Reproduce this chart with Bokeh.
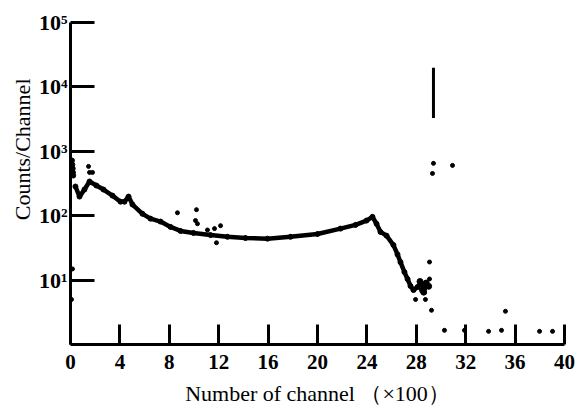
import math
from bokeh.plotting import figure
from bokeh.models import FixedTicker, Title, Range1d
from bokeh.embed import file_html
from bokeh.resources import INLINE

# main spectrum curve (channel x100, counts/channel)
curve_x = [0.40, 0.73, 1.13, 1.54, 2.10, 2.67, 3.40, 4.05, 4.37, 4.70, 5.02, 5.83, 6.48,
           7.29, 8.10, 8.91, 9.96, 11.34, 12.71, 14.17, 15.95, 17.81, 20.0, 21.86, 23.08,
           23.97, 24.45, 24.78, 25.10, 25.59, 26.15, 26.48, 26.72, 27.04, 27.29, 27.53,
           27.77, 28.10, 28.34, 28.66, 28.91]
curve_y = [284, 198, 255, 340, 294, 255, 205, 165, 165, 198, 149, 107, 90,
           81, 67, 58, 54, 50, 47, 45, 44, 47, 52, 63, 72,
           84, 96, 75, 56, 49, 35, 25, 19, 13.3, 10.4, 8.1,
           7.0, 7.8, 8.7, 7.5, 8.4]

# spike at the very first channels
spike_x = [0.12, 0.15, 0.18, 0.20, 0.22]
spike_y = [720, 620, 540, 470, 420]

# end-of-spectrum cluster
cluster_x = [28.3, 28.5, 28.6, 28.8, 29.0]
cluster_y = [9.5, 7.0, 6.5, 9.0, 8.0]

# scattered single points
outlier_x = [1.46, 1.54, 1.78, 8.66, 10.2, 10.12, 10.28, 11.09, 11.66, 12.15, 11.82,
             0.16, 0.08, 29.07, 29.07, 27.94, 28.74, 29.23, 30.28, 31.90, 33.85,
             34.90, 35.22, 37.98, 39.03, 29.39, 29.31, 30.93]
outlier_y = [583, 470, 470, 111, 124, 84, 75, 60, 63, 70, 38,
             14.9, 5.0, 19.1, 10.4, 5.0, 5.0, 3.4, 1.66, 1.66, 1.6,
             1.66, 3.28, 1.6, 1.6, 650, 453, 604]

# tall marker line
bar_x = [29.39]
bar_lo = [3300]
bar_hi = [19800]

x_ticks = [0, 4, 8, 12, 16, 20, 24, 28, 32, 36, 40]
y_ticks = [10, 100, 1000, 10000, 100000]
y_tick_labels = ["10\u00b9", "10\u00b2", "10\u00b3", "10\u2074", "10\u2075"]

SERIF = "Liberation Serif"

p = figure(frame_width=494, frame_height=322,
           x_range=Range1d(0, 40), y_range=Range1d(1, 1e5), y_axis_type="log",
           output_backend="svg", toolbar_location=None,
           min_border_left=70, min_border_right=14, min_border_top=22, min_border_bottom=62)

p.outline_line_color = None
p.background_fill_color = "white"
p.border_fill_color = "white"
p.xgrid.grid_line_color = None
p.ygrid.grid_line_color = None

# x axis
xa = p.xaxis[0]
xa.ticker = FixedTicker(ticks=x_ticks)
xa.axis_line_width = 3
xa.axis_line_color = "black"
xa.major_tick_in = 20
xa.major_tick_out = 0
xa.major_tick_line_width = 3
xa.minor_tick_line_color = None
xa.major_label_text_font = SERIF
xa.major_label_text_font_size = "21px"
xa.major_label_text_font_style = "bold"
xa.major_label_text_color = "black"
xa.major_label_standoff = 10
xa.axis_label = "Number of channel \uff08\u00d7100\uff09"
xa.axis_label_text_font = SERIF
xa.axis_label_text_font_size = "22px"
xa.axis_label_text_font_style = "normal"
xa.axis_label_text_color = "black"
xa.axis_label_standoff = 9

# y axis
ya = p.yaxis[0]
ya.ticker = FixedTicker(ticks=y_ticks)
ya.major_label_overrides = {t: s for t, s in zip(y_ticks, y_tick_labels)}
ya.axis_line_width = 3
ya.axis_line_color = "black"
ya.major_tick_in = 24
ya.major_tick_out = 0
ya.major_tick_line_width = 3
ya.minor_tick_line_color = None
ya.major_label_text_font = SERIF
ya.major_label_text_font_size = "22px"
ya.major_label_text_font_style = "bold"
ya.major_label_text_color = "black"
ya.major_label_standoff = 3

p.add_layout(Title(text="Counts/Channel", align="right", offset=56,
                   text_font=SERIF, text_font_size="22px", text_font_style="normal",
                   text_color="black", standoff=2), "left")

p.line(curve_x, curve_y, line_width=4.5, line_color="black")
p.scatter(curve_x, curve_y, size=5, color="black")
p.scatter(spike_x, spike_y, size=5, color="black")
p.scatter(cluster_x, cluster_y, size=6, color="black")
p.scatter(outlier_x, outlier_y, size=4, color="black")
p.segment(x0=bar_x, y0=bar_lo, x1=bar_x, y1=bar_hi, line_width=3, line_color="black")

open("out.html", "w").write(file_html(p, INLINE))
